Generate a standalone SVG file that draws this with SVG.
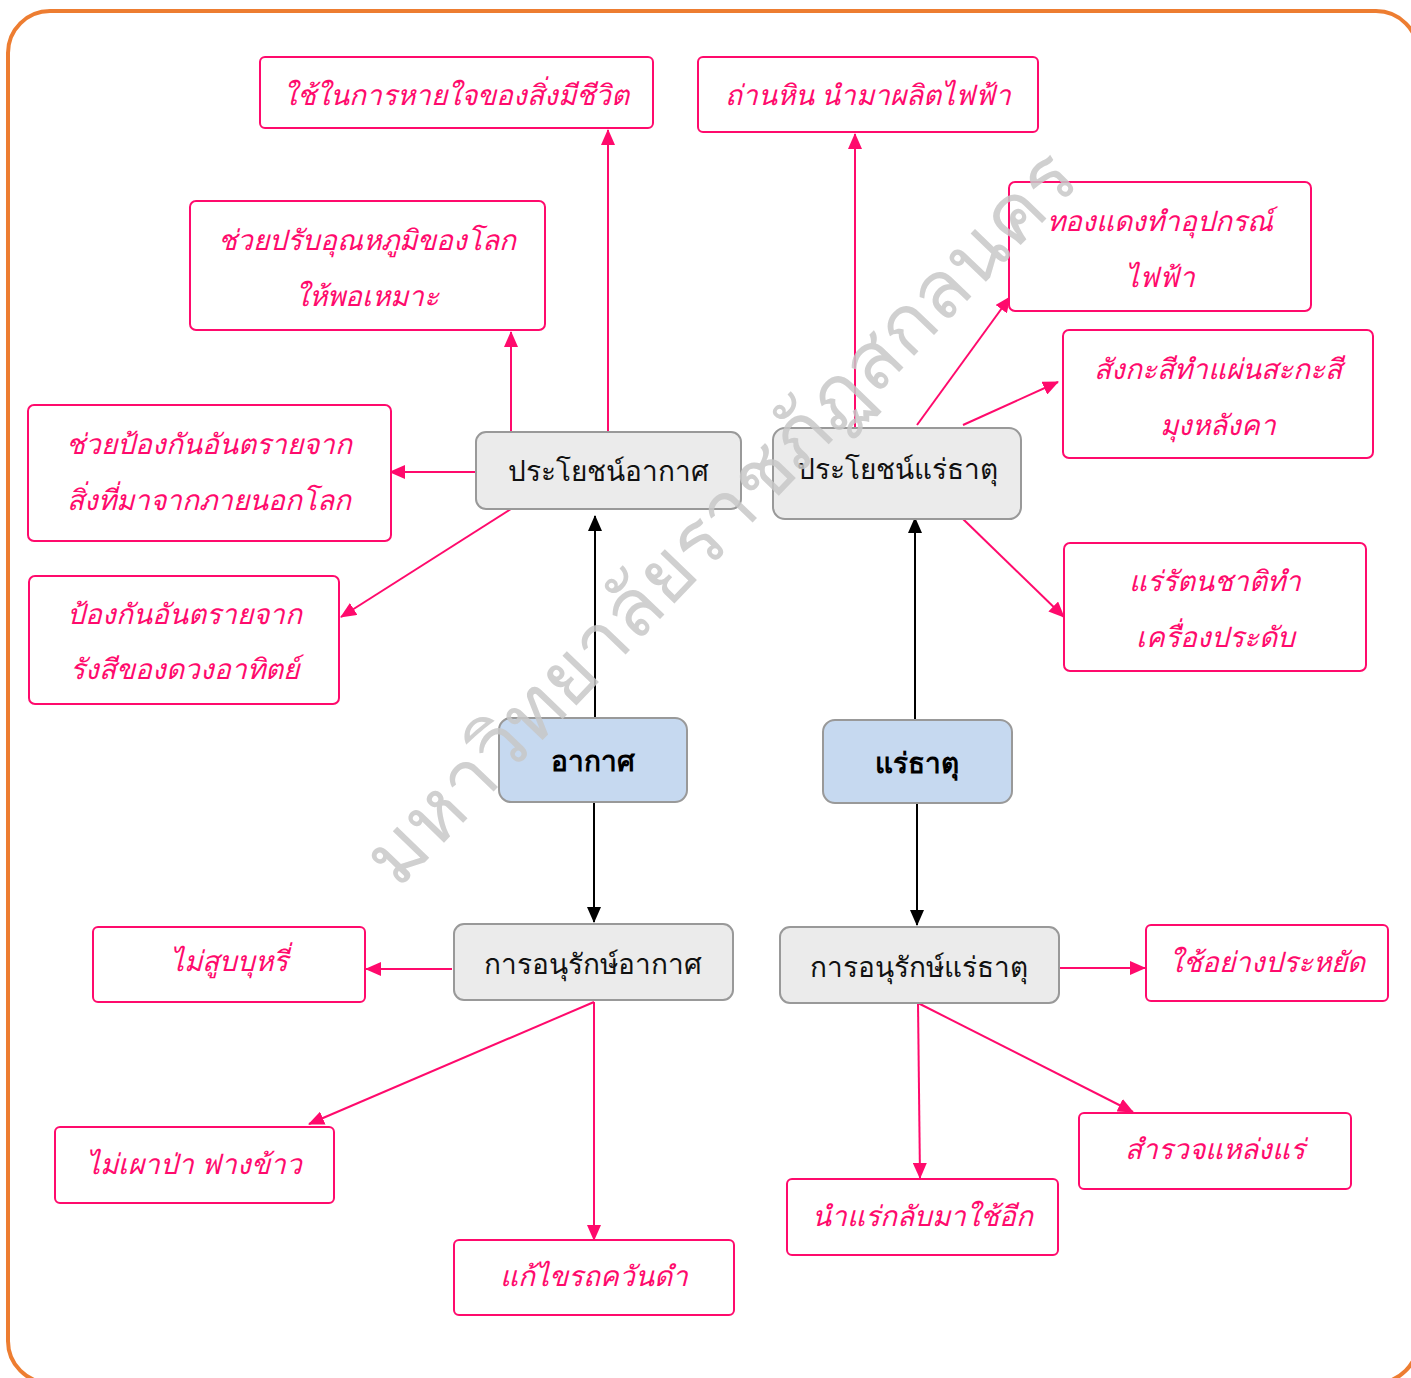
<svg xmlns="http://www.w3.org/2000/svg" width="1411" height="1378" viewBox="0 0 1411 1378">
<defs>
<style>
.frame{fill:#fff;stroke:#ED7D31;stroke-width:4}
.pbox{fill:#fff;stroke:#FF0A6C;stroke-width:2}
.gbox{fill:#EBEBEB;stroke:#999;stroke-width:2}
.bbox{fill:#C6D9F0;stroke:#999;stroke-width:2}
.pt{font-family:"Noto Sans","DejaVu Sans",sans-serif;font-style:italic;font-size:28px;fill:#FF0A6C;text-anchor:middle}
.gt{font-family:"Noto Sans","DejaVu Sans",sans-serif;font-size:28px;fill:#111;text-anchor:middle}
.bt{font-family:"Noto Sans","DejaVu Sans",sans-serif;font-size:28px;font-weight:bold;fill:#000;text-anchor:middle}
.pl{fill:none;stroke:#FF0A6C;stroke-width:2}
.bl{fill:none;stroke:#000;stroke-width:2}
.wm{font-family:"Noto Sans","DejaVu Sans",sans-serif;font-size:80px;fill:#C8C8C8;opacity:0.85}
</style>
<marker id="ap" viewBox="0 0 16 14" refX="15" refY="7" markerWidth="16" markerHeight="14" markerUnits="userSpaceOnUse" orient="auto"><path d="M0,0 L16,7 L0,14 Z" fill="#FF0A6C"/></marker>
<marker id="ab" viewBox="0 0 16 14" refX="15" refY="7" markerWidth="16" markerHeight="14" markerUnits="userSpaceOnUse" orient="auto"><path d="M0,0 L16,7 L0,14 Z" fill="#000"/></marker>
</defs>
<rect class="frame" x="8" y="11" width="1410" height="1372" rx="42"/>

<g id="connectors">
<path class="pl" d="M608,432 V130" marker-end="url(#ap)"/>
<path class="pl" d="M511,432 V332" marker-end="url(#ap)"/>
<path class="pl" d="M476,472 H390" marker-end="url(#ap)"/>
<path class="pl" d="M511,509 L341,617" marker-end="url(#ap)"/>
<path class="pl" d="M855,428 V134" marker-end="url(#ap)"/>
<path class="pl" d="M917,425 L1010,297" marker-end="url(#ap)"/>
<path class="pl" d="M963,425 L1058,382" marker-end="url(#ap)"/>
<path class="pl" d="M963,519 L1064,617" marker-end="url(#ap)"/>
<path class="bl" d="M595,718 V516" marker-end="url(#ab)"/>
<path class="bl" d="M594,803 V922" marker-end="url(#ab)"/>
<path class="bl" d="M915,720 V518" marker-end="url(#ab)"/>
<path class="bl" d="M917,804 V925" marker-end="url(#ab)"/>
<path class="pl" d="M452,969 H366" marker-end="url(#ap)"/>
<path class="pl" d="M594,1002 L309,1124" marker-end="url(#ap)"/>
<path class="pl" d="M594,1002 V1240" marker-end="url(#ap)"/>
<path class="pl" d="M1060,968 H1145" marker-end="url(#ap)"/>
<path class="pl" d="M918,1003 L920,1178" marker-end="url(#ap)"/>
<path class="pl" d="M918,1003 L1133,1112" marker-end="url(#ap)"/>
</g>

<g id="n-breathe"><rect class="pbox" x="260" y="57" width="393" height="71" rx="5"/><text class="pt" x="456" y="105">ใช้ในการหายใจของสิ่งมีชีวิต</text></g>
<g id="n-coal"><rect class="pbox" x="698" y="57" width="340" height="75" rx="5"/><text class="pt" x="868" y="105">ถ่านหิน นำมาผลิตไฟฟ้า</text></g>
<g id="n-temp"><rect class="pbox" x="190" y="201" width="355" height="129" rx="6"/><text class="pt" x="367" y="250">ช่วยปรับอุณหภูมิของโลก</text><text class="pt" x="367" y="306">ให้พอเหมาะ</text></g>
<g id="n-copper"><rect class="pbox" x="1009" y="182" width="302" height="129" rx="6"/><text class="pt" x="1160" y="231">ทองแดงทำอุปกรณ์</text><text class="pt" x="1160" y="287">ไฟฟ้า</text></g>
<g id="n-zinc"><rect class="pbox" x="1063" y="330" width="310" height="128" rx="6"/><text class="pt" x="1218" y="379">สังกะสีทำแผ่นสะกะสี</text><text class="pt" x="1218" y="435">มุงหลังคา</text></g>
<g id="n-outer"><rect class="pbox" x="28" y="405" width="363" height="136" rx="6"/><text class="pt" x="209" y="454">ช่วยป้องกันอันตรายจาก</text><text class="pt" x="209" y="510">สิ่งที่มาจากภายนอกโลก</text></g>
<g id="n-sun"><rect class="pbox" x="29" y="576" width="310" height="128" rx="6"/><text class="pt" x="184" y="624">ป้องกันอันตรายจาก</text><text class="pt" x="184" y="679">รังสีของดวงอาทิตย์</text></g>
<g id="n-gem"><rect class="pbox" x="1064" y="543" width="302" height="128" rx="6"/><text class="pt" x="1215" y="591">แร่รัตนชาติทำ</text><text class="pt" x="1215" y="647">เครื่องประดับ</text></g>

<g id="n-airben"><rect class="gbox" x="476" y="432" width="265" height="77" rx="10"/><text class="gt" x="608" y="481">ประโยชน์อากาศ</text></g>
<g id="n-minben"><rect class="gbox" x="773" y="428" width="248" height="91" rx="12"/><text class="gt" x="897" y="479">ประโยชน์แร่ธาตุ</text></g>
<g id="n-air"><rect class="bbox" x="499" y="718" width="188" height="84" rx="12"/><text class="bt" x="593" y="771">อากาศ</text></g>
<g id="n-min"><rect class="bbox" x="823" y="720" width="189" height="83" rx="12"/><text class="bt" x="917" y="773">แร่ธาตุ</text></g>
<g id="n-aircons"><rect class="gbox" x="454" y="924" width="279" height="76" rx="10"/><text class="gt" x="593" y="974">การอนุรักษ์อากาศ</text></g>
<g id="n-mincons"><rect class="gbox" x="780" y="927" width="279" height="76" rx="10"/><text class="gt" x="919" y="977">การอนุรักษ์แร่ธาตุ</text></g>

<g id="n-nosmoke"><rect class="pbox" x="93" y="927" width="272" height="75" rx="5"/><text class="pt" x="229" y="971">ไม่สูบบุหรี่</text></g>
<g id="n-save"><rect class="pbox" x="1146" y="925" width="242" height="76" rx="5"/><text class="pt" x="1267" y="972">ใช้อย่างประหยัด</text></g>
<g id="n-noburn"><rect class="pbox" x="55" y="1127" width="279" height="76" rx="5"/><text class="pt" x="194" y="1174">ไม่เผาป่า ฟางข้าว</text></g>
<g id="n-car"><rect class="pbox" x="454" y="1240" width="280" height="75" rx="5"/><text class="pt" x="594" y="1286">แก้ไขรถควันดำ</text></g>
<g id="n-survey"><rect class="pbox" x="1079" y="1113" width="272" height="76" rx="5"/><text class="pt" x="1215" y="1159">สำรวจแหล่งแร่</text></g>
<g id="n-recycle"><rect class="pbox" x="787" y="1179" width="271" height="76" rx="5"/><text class="pt" x="922" y="1226">นำแร่กลับมาใช้อีก</text></g>

<text class="wm" transform="translate(398,890) rotate(-46)">มหาวิทยาลัยราชภัฏสกลนคร</text>
</svg>
